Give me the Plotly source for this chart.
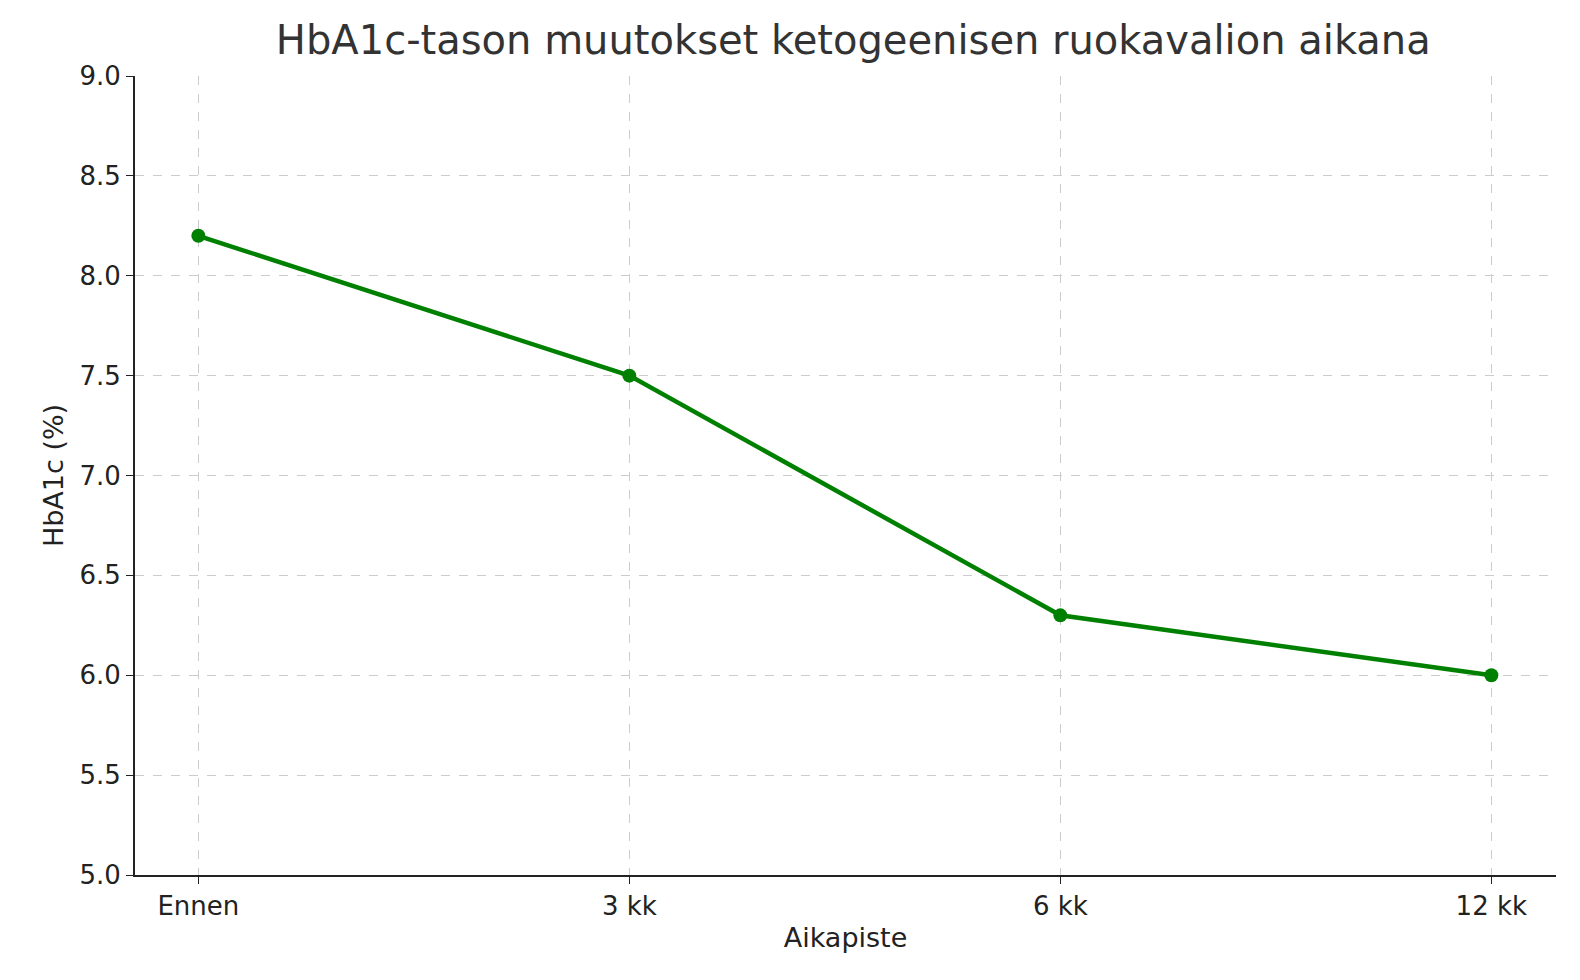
import plotly.graph_objects as go

# data
aikapisteet = ["Ennen", "3 kk", "6 kk", "12 kk"]
hba1c = [8.2, 7.5, 6.3, 6.0]

fig = go.Figure(go.Scatter(
    x=list(range(len(aikapisteet))), y=hba1c,
    mode="lines+markers",
    line=dict(color="green", width=4.5),
    marker=dict(color="green", size=14),
))

fig.update_layout(
    width=1580, height=980,
    margin=dict(l=127, r=32, t=68, b=113),
    paper_bgcolor="white", plot_bgcolor="white",
    font=dict(family="DejaVu Sans", size=26, color="#222"),
    title=dict(text="HbA1c-tason muutokset ketogeenisen ruokavalion aikana",
               x=0.535, xanchor="center", y=0.967, yanchor="middle",
               font=dict(size=40, color="#333")),
    showlegend=False,
)
fig.update_xaxes(
    tickvals=list(range(len(aikapisteet))), ticktext=aikapisteet,
    range=[-0.147, 3.15],
    tickfont=dict(size=26),
    title=dict(text="Aikapiste", standoff=8, font=dict(size=27)),
    showline=True, linecolor="#222", linewidth=2,
    ticks="outside", ticklen=7, tickcolor="#222",
    showgrid=True, gridcolor="#cccccc", griddash="dash", gridwidth=1,
    zeroline=False,
)
fig.update_yaxes(
    range=[5.0, 9.0], dtick=0.5, tickformat=".1f",
    tickfont=dict(size=26),
    title=dict(text="HbA1c (%)", standoff=8, font=dict(size=27)),
    showline=True, linecolor="#222", linewidth=2,
    ticks="outside", ticklen=7, tickcolor="#222",
    showgrid=True, gridcolor="#cccccc", griddash="dash", gridwidth=1,
    zeroline=False,
)

fig.write_html("out.html")
